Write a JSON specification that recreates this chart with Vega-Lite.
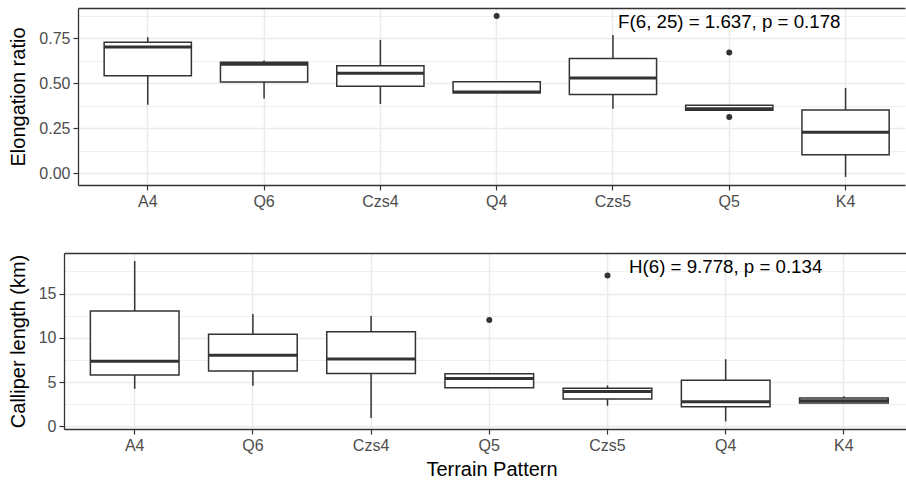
{
  "$schema": "https://vega.github.io/schema/vega-lite/v6.json",
  "background": "white",
  "padding": {"left": 8, "top": 8, "right": 0, "bottom": 0},
  "config": {
    "view": {"stroke": null},
    "font": "Liberation Sans",
    "axis": {
      "labelFont": "Liberation Sans", "labelFontSize": 16, "labelColor": "#4D4D4D",
      "titleFont": "Liberation Sans", "titleFontSize": 20, "titleFontWeight": "normal", "titleColor": "#000000",
      "tickColor": "#333333", "tickSize": 5, "tickWidth": 1.2,
      "domainColor": "#333333", "domainWidth": 1.3,
      "gridColor": "#EBEBEB", "gridWidth": 1.5, "labelPadding": 3, "titlePadding": 10
    }
  },
  "datasets": {
    "elong": [
      {"pattern": "A4", "lower": 0.381, "q1": 0.542, "median": 0.702, "q3": 0.728, "upper": 0.756},
      {"pattern": "Q6", "lower": 0.415, "q1": 0.507, "median": 0.606, "q3": 0.617, "upper": 0.626},
      {"pattern": "Czs4", "lower": 0.385, "q1": 0.483, "median": 0.555, "q3": 0.597, "upper": 0.741},
      {"pattern": "Q4", "lower": 0.447, "q1": 0.447, "median": 0.452, "q3": 0.509, "upper": 0.509},
      {"pattern": "Czs5", "lower": 0.359, "q1": 0.438, "median": 0.529, "q3": 0.637, "upper": 0.768},
      {"pattern": "Q5", "lower": 0.350, "q1": 0.350, "median": 0.358, "q3": 0.378, "upper": 0.378},
      {"pattern": "K4", "lower": -0.020, "q1": 0.103, "median": 0.228, "q3": 0.352, "upper": 0.474}
    ],
    "elongOut": [
      {"pattern": "Q4", "value": 0.873},
      {"pattern": "Q5", "value": 0.671},
      {"pattern": "Q5", "value": 0.313}
    ],
    "cal": [
      {"pattern": "A4", "lower": 4.24, "q1": 5.81, "median": 7.36, "q3": 13.03, "upper": 18.67},
      {"pattern": "Q6", "lower": 4.58, "q1": 6.26, "median": 8.03, "q3": 10.39, "upper": 12.68},
      {"pattern": "Czs4", "lower": 0.94, "q1": 5.96, "median": 7.61, "q3": 10.69, "upper": 12.45},
      {"pattern": "Q5", "lower": 4.35, "q1": 4.35, "median": 5.4, "q3": 5.95, "upper": 5.95},
      {"pattern": "Czs5", "lower": 2.33, "q1": 3.08, "median": 3.94, "q3": 4.31, "upper": 4.61},
      {"pattern": "Q4", "lower": 0.56, "q1": 2.21, "median": 2.78, "q3": 5.21, "upper": 7.58},
      {"pattern": "K4", "lower": 2.6, "q1": 2.65, "median": 2.9, "q3": 3.2, "upper": 3.4}
    ],
    "calOut": [
      {"pattern": "Q5", "value": 12.0},
      {"pattern": "Czs5", "value": 17.03}
    ],
    "elongNote": [{"pattern": "Q5", "y": 0.84, "label": "F(6, 25) = 1.637, p = 0.178"}],
    "calNote": [{"pattern": "Q4", "y": 18.0, "label": "H(6) = 9.778, p = 0.134"}]
  },
  "spacing": 44,
  "center": true,
  "vconcat": [
    {
      "width": 827,
      "height": 177,
      "resolve": {"axis": {"x": "independent", "y": "independent"}},
      "layer": [
        {
          "data": {"name": "elong"},
          "mark": {"type": "rule", "stroke": "#333333", "strokeWidth": 1.5},
          "encoding": {
            "x": {"field": "pattern", "type": "nominal",
                  "scale": {"domain": ["A4", "Q6", "Czs4", "Q4", "Czs5", "Q5", "K4"], "paddingInner": 0, "paddingOuter": 0.0555, "align": 0.9},
                  "axis": {"title": null, "grid": true, "labelAngle": 0, "domain": true}},
            "y": {"field": "lower", "type": "quantitative",
                  "scale": {"domain": [-0.065, 0.918], "nice": false, "zero": false},
                  "axis": {"title": "Elongation ratio", "values": [0, 0.25, 0.5, 0.75], "format": ".2f", "grid": true}},
            "y2": {"field": "upper"}
          }
        },
        {
          "data": {"name": "elong"},
          "mark": {"type": "bar", "fill": "white", "stroke": "#333333", "strokeWidth": 1.5, "width": {"band": 0.75}},
          "encoding": {
            "x": {"field": "pattern", "type": "nominal",
                  "scale": {"domain": ["A4", "Q6", "Czs4", "Q4", "Czs5", "Q5", "K4"], "paddingInner": 0, "paddingOuter": 0.0555, "align": 0.9},
                  "axis": {"orient": "top", "title": null, "labels": false, "ticks": false, "grid": false, "domain": true}},
            "y": {"field": "q1", "type": "quantitative",
                  "scale": {"domain": [-0.065, 0.918], "nice": false, "zero": false},
                  "axis": {"orient": "right", "title": null, "labels": false, "ticks": false, "domain": false, "grid": true, "gridWidth": 0.8, "values": [0.125, 0.375, 0.625, 0.875]}},
            "y2": {"field": "q3"}
          }
        },
        {
          "data": {"name": "elong"},
          "mark": {"type": "bar", "fill": null, "stroke": "#333333", "strokeWidth": 3, "width": {"band": 0.75}},
          "encoding": {
            "x": {"field": "pattern", "type": "nominal", "axis": null},
            "y": {"field": "median", "type": "quantitative", "axis": null},
            "y2": {"field": "median"}
          }
        },
        {
          "data": {"name": "elongOut"},
          "mark": {"type": "circle", "size": 36, "color": "#333333", "opacity": 1},
          "encoding": {
            "x": {"field": "pattern", "type": "nominal", "axis": null},
            "y": {"field": "value", "type": "quantitative", "axis": null}
          }
        },
        {
          "data": {"name": "elongNote"},
          "mark": {"type": "text", "fontSize": 18.7, "color": "#000000", "font": "Liberation Sans", "baseline": "middle", "align": "center"},
          "encoding": {
            "x": {"field": "pattern", "type": "nominal", "axis": null},
            "y": {"field": "y", "type": "quantitative", "axis": null},
            "text": {"field": "label"}
          }
        }
      ]
    },
    {
      "width": 855,
      "height": 176,
      "resolve": {"axis": {"x": "independent", "y": "independent"}},
      "layer": [
        {
          "data": {"name": "cal"},
          "mark": {"type": "rule", "stroke": "#333333", "strokeWidth": 1.5},
          "encoding": {
            "x": {"field": "pattern", "type": "nominal",
                  "scale": {"domain": ["A4", "Q6", "Czs4", "Q5", "Czs5", "Q4", "K4"], "paddingInner": 0, "paddingOuter": 0.1168, "align": 0.42},
                  "axis": {"title": "Terrain Pattern", "titlePadding": 6, "grid": true, "labelAngle": 0, "domain": true}},
            "y": {"field": "lower", "type": "quantitative",
                  "scale": {"domain": [-0.3, 19.58], "nice": false, "zero": false},
                  "axis": {"title": "Calliper length (km)", "values": [0, 5, 10, 15], "grid": true}},
            "y2": {"field": "upper"}
          }
        },
        {
          "data": {"name": "cal"},
          "mark": {"type": "bar", "fill": "white", "stroke": "#333333", "strokeWidth": 1.5, "width": {"band": 0.75}},
          "encoding": {
            "x": {"field": "pattern", "type": "nominal",
                  "scale": {"domain": ["A4", "Q6", "Czs4", "Q5", "Czs5", "Q4", "K4"], "paddingInner": 0, "paddingOuter": 0.1168, "align": 0.42},
                  "axis": {"orient": "top", "title": null, "labels": false, "ticks": false, "grid": false, "domain": true}},
            "y": {"field": "q1", "type": "quantitative",
                  "scale": {"domain": [-0.3, 19.58], "nice": false, "zero": false},
                  "axis": {"orient": "right", "title": null, "labels": false, "ticks": false, "domain": false, "grid": true, "gridWidth": 0.8, "values": [2.5, 7.5, 12.5, 17.5]}},
            "y2": {"field": "q3"}
          }
        },
        {
          "data": {"name": "cal"},
          "mark": {"type": "bar", "fill": null, "stroke": "#333333", "strokeWidth": 3, "width": {"band": 0.75}},
          "encoding": {
            "x": {"field": "pattern", "type": "nominal", "axis": null},
            "y": {"field": "median", "type": "quantitative", "axis": null},
            "y2": {"field": "median"}
          }
        },
        {
          "data": {"name": "calOut"},
          "mark": {"type": "circle", "size": 36, "color": "#333333", "opacity": 1},
          "encoding": {
            "x": {"field": "pattern", "type": "nominal", "axis": null},
            "y": {"field": "value", "type": "quantitative", "axis": null}
          }
        },
        {
          "data": {"name": "calNote"},
          "mark": {"type": "text", "fontSize": 18.7, "color": "#000000", "font": "Liberation Sans", "baseline": "middle", "align": "center"},
          "encoding": {
            "x": {"field": "pattern", "type": "nominal", "axis": null},
            "y": {"field": "y", "type": "quantitative", "axis": null},
            "text": {"field": "label"}
          }
        }
      ]
    }
  ]
}
